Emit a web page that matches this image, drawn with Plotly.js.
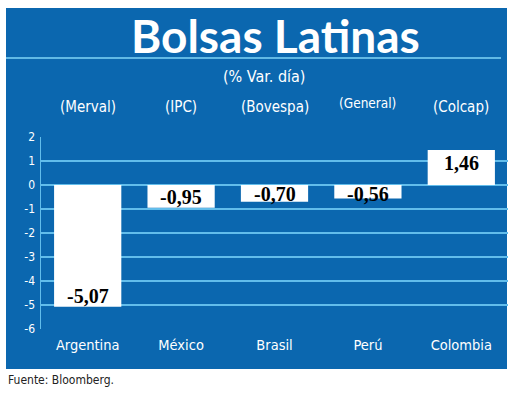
<!DOCTYPE html>
<html>
<head>
<meta charset="utf-8">
<script src="https://cdn.plot.ly/plotly-3.0.1.min.js"></script>
<style>html,body{margin:0;padding:0;background:#fff;}#chart{width:520px;height:405px;}</style>
</head>
<body>
<div id="chart"></div>
<script>
const countries = ["Argentina", "México", "Brasil", "Perú", "Colombia"];
const indices = ["(Merval)", "(IPC)", "(Bovespa)", "(General)", "(Colcap)"];
const values = [-5.07, -0.95, -0.70, -0.56, 1.46];
const valueLabels = ["-5,07", "-0,95", "-0,70", "-0,56", "1,46"];
const yTicks = [2, 1, 0, -1, -2, -3, -4, -5, -6];

const BLUE = "#0B67AF";
const GRID = "#62BDEB";
const NARROW = "DejaVu Sans Condensed, sans-serif";

// plot area: x 41..508, y 137..329
const L = 41, R = 508, T = 137, B = 329;
const W = 520, H = 405;
const px = x => (x - L) / (R - L);
const py = y => (B - y) / (B - T);
const PXU = (B - T) / 8; // pixels per y unit (range -6..2)

const annotations = [];
countries.forEach((c, i) => {
  const v = values[i];
  // label centre: just inside the bar end, kept below/above the zero line
  const yc = v < 0 ? Math.min(v + 11 / PXU, -9 / PXU) : Math.max(v - 13 / PXU, 9 / PXU);
  annotations.push({
    x: c, y: yc, xref: "x", yref: "y",
    text: "<b>" + valueLabels[i] + "</b>",
    showarrow: false, yanchor: "middle",
    font: {family: "Liberation Serif, serif", size: 20, color: "#000"}
  });
  annotations.push({
    x: c, y: py(i === 3 ? 103 : 107), xref: "x", yref: "paper",
    text: indices[i], showarrow: false, yanchor: "middle",
    font: {family: NARROW, size: i === 3 ? 13.5 : 15, color: "#fff"}
  });
});
annotations.push({
  x: px(264), y: py(76), xref: "paper", yref: "paper", xanchor: "center", yanchor: "middle",
  text: "(% Var. día)", showarrow: false,
  font: {family: NARROW, size: 16, color: "#fff"}
});
annotations.push({
  x: px(275), y: py(36), xref: "paper", yref: "paper", xanchor: "center", yanchor: "middle",
  text: "<b>Bolsas Latinas</b>", showarrow: false,
  font: {family: "Lato, sans-serif", size: 46, color: "#fff"}
});
annotations.push({
  x: px(6), y: py(380), xref: "paper", yref: "paper", xanchor: "left", yanchor: "middle",
  text: "Fuente: Bloomberg.", showarrow: false,
  font: {family: NARROW, size: 12, color: "#222"}
});

const data = [{
  type: "bar",
  x: countries,
  y: values,
  marker: {color: "#fff", line: {width: 0}},
  hoverinfo: "skip"
}];

const layout = {
  width: W, height: H,
  margin: {l: L, r: W - R, t: T, b: H - B, pad: 0},
  paper_bgcolor: "#fff",
  plot_bgcolor: "rgba(0,0,0,0)",
  showlegend: false,
  bargap: 0.28,
  xaxis: {
    type: "category",
    showgrid: false, zeroline: false, showline: false,
    ticks: "",
    tickfont: {family: NARROW, size: 14.5, color: "#fff"},
    ticklabelstandoff: 5
  },
  yaxis: {
    range: [-6, 2],
    tickvals: yTicks,
    ticktext: yTicks.map(String),
    showgrid: true, gridcolor: GRID, gridwidth: 1.5,
    zeroline: true, zerolinecolor: GRID, zerolinewidth: 1.5,
    showline: true, linecolor: GRID, linewidth: 1.5,
    ticks: "",
    tickfont: {family: NARROW, size: 12, color: "#fff"},
    ticklabelstandoff: 2
  },
  shapes: [
    {type: "rect", xref: "paper", yref: "paper", layer: "below",
     x0: px(6), x1: px(507), y0: py(369), y1: py(8),
     fillcolor: BLUE, line: {width: 0}},
    {type: "line", xref: "paper", yref: "paper", layer: "below",
     x0: px(6), x1: px(501), y0: py(58), y1: py(58),
     line: {color: "#7FD4F7", width: 1.5}}
  ],
  annotations: annotations
};

Plotly.newPlot("chart", data, layout, {displayModeBar: false, staticPlot: true});
</script>
</body>
</html>
